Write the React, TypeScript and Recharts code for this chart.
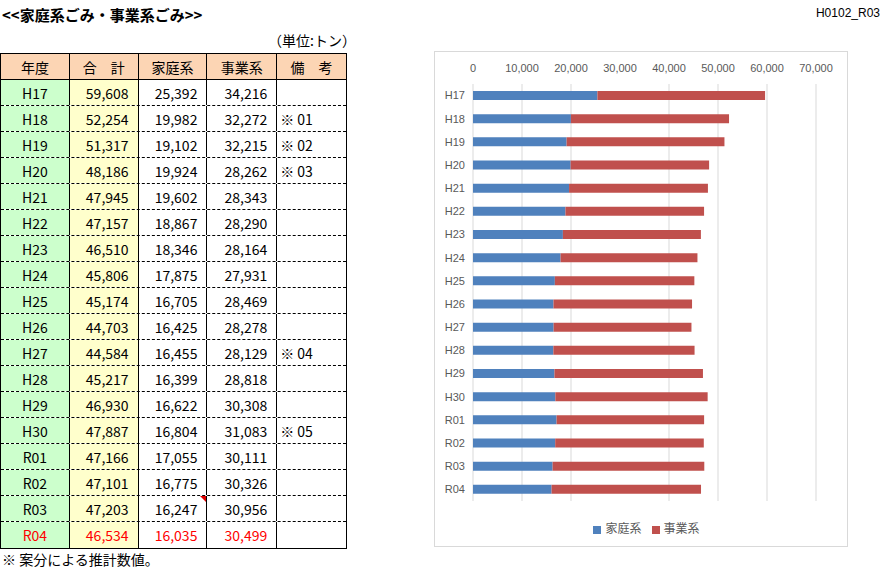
import { BarChart, Bar, XAxis, YAxis, CartesianGrid, Legend } from 'recharts';

const years = ['H17', 'H18', 'H19', 'H20', 'H21', 'H22', 'H23', 'H24', 'H25', 'H26', 'H27', 'H28', 'H29', 'H30', 'R01', 'R02', 'R03', 'R04'];
const totals = [59608, 52254, 51317, 48186, 47945, 47157, 46510, 45806, 45174, 44703, 44584, 45217, 46930, 47887, 47166, 47101, 47203, 46534];
const household = [25392, 19982, 19102, 19924, 19602, 18867, 18346, 17875, 16705, 16425, 16455, 16399, 16622, 16804, 17055, 16775, 16247, 16035];
const business = [34216, 32272, 32215, 28262, 28343, 28290, 28164, 27931, 28469, 28278, 28129, 28818, 30308, 31083, 30111, 30326, 30956, 30499];
const remarks = ['', '※ 01', '※ 02', '※ 03', '', '', '', '', '', '', '※ 04', '', '', '※ 05', '', '', '', ''];
const headers = ['年度', '合\u3000計', '家庭系', '事業系', '備\u3000考'];
const xTicks = [0, 10000, 20000, 30000, 40000, 50000, 60000, 70000];

const colWidths = [69, 69, 69, 70, 69];
const ROW_H = 26;
const jp = "'Noto Sans CJK JP', sans-serif";
const fmt = (v: number) => v.toLocaleString('en-US');

const chartData = years.map((y, i) => ({ year: y, household: household[i], business: business[i] }));
const seriesOrder = ['household', 'business'];

function Cell({ w, bg, align, color, children, last }: any) {
  return (
    <div
      style={{
        width: w,
        height: '100%',
        boxSizing: 'border-box',
        borderRight: last ? 'none' : '1px solid #000',
        background: bg,
        color,
        display: 'flex',
        alignItems: 'center',
        justifyContent: align === 'right' ? 'flex-end' : align === 'left' ? 'flex-start' : 'center',
        paddingRight: align === 'right' ? 9 : 0,
        paddingLeft: align === 'left' ? 3 : 0,
        position: 'relative',
      }}
    >
      {children}
    </div>
  );
}

function DataTable() {
  return (
    <div
      style={{
        position: 'absolute',
        left: 0,
        top: 53,
        width: 347,
        border: '1px solid #000',
        boxSizing: 'border-box',
        fontFamily: jp,
        fontSize: 14,
      }}
    >
      <div style={{ display: 'flex', height: 25, borderBottom: '1px solid #000', background: '#fcd5b4' }}>
        {headers.map((h, i) => (
          <Cell key={h} w={colWidths[i]} align="center" last={i === 4}>{h}</Cell>
        ))}
      </div>
      {years.map((y, i) => {
        const isLast = i === years.length - 1;
        const color = isLast ? '#ff0000' : '#000';
        return (
          <div
            key={y}
            style={{
              display: 'flex',
              height: ROW_H,
              boxSizing: 'border-box',
              borderBottom: isLast ? 'none' : '1px dashed #000',
            }}
          >
            <Cell w={colWidths[0]} bg="#ccffcc" align="center" color={color}>{y}</Cell>
            <Cell w={colWidths[1]} bg="#ffffcc" align="right" color={color}>{fmt(totals[i])}</Cell>
            <Cell w={colWidths[2]} align="right" color={color}>
              {fmt(household[i])}
              {y === 'R03' && (
                <div
                  style={{
                    position: 'absolute',
                    right: 0,
                    top: 0,
                    width: 0,
                    height: 0,
                    borderTop: '6px solid #e00000',
                    borderLeft: '6px solid transparent',
                  }}
                />
              )}
            </Cell>
            <Cell w={colWidths[3]} align="right" color={color}>{fmt(business[i])}</Cell>
            <Cell w={colWidths[4]} align="left" color={color} last>{remarks[i]}</Cell>
          </div>
        );
      })}
    </div>
  );
}

export default function App() {
  return (
    <div style={{ position: 'absolute', left: 0, top: 0, width: 888, height: 574, background: '#fff', overflow: 'hidden' }}>
      <div style={{ position: 'absolute', left: 2, top: 4, fontFamily: jp, fontSize: 15, fontWeight: 'bold' }}>
        {'<<家庭系ごみ・事業系ごみ>>'}
      </div>
      <div style={{ position: 'absolute', right: 8, top: 6, fontFamily: "'Liberation Sans', sans-serif", fontSize: 12 }}>
        H0102_R03
      </div>
      <div style={{ position: 'absolute', left: 268, top: 30, fontFamily: jp, fontSize: 14 }}>（単位:トン）</div>
      <DataTable />
      <div style={{ position: 'absolute', left: 2, top: 549, fontFamily: jp, fontSize: 14 }}>※ 案分による推計数値。</div>

      <div
        style={{
          position: 'absolute',
          left: 434,
          top: 51,
          width: 414,
          height: 496,
          border: '1px solid #d9d9d9',
          boxSizing: 'border-box',
          fontFamily: "'Liberation Sans', 'Noto Sans CJK JP', sans-serif",
        }}
      >
        <BarChart
          width={412}
          height={494}
          data={chartData}
          layout="vertical"
          margin={{ top: 12, right: 31, left: 0, bottom: 8 }}
          barSize={9}
        >
          <CartesianGrid horizontal={false} stroke="#d9d9d9" />
          <XAxis
            type="number"
            orientation="top"
            domain={[0, 70000]}
            ticks={xTicks}
            tickFormatter={fmt}
            axisLine={false}
            tickLine={false}
            tickMargin={6}
            height={20}
            tick={{ fill: '#595959', fontSize: 11 }}
          />
          <YAxis
            type="category"
            dataKey="year"
            width={38}
            axisLine={false}
            tickLine={false}
            tick={{ fill: '#595959', fontSize: 11 }}
          />
          <Legend
            verticalAlign="bottom"
            iconType="square"
            iconSize={8}
            itemSorter={(item: any) => seriesOrder.indexOf(item.dataKey)}
            wrapperStyle={{ paddingTop: 19, paddingLeft: 26, lineHeight: '18px', fontSize: 12, color: '#595959' }}
            formatter={(v: string) => <span style={{ color: '#595959' }}>{v}</span>}
          />
          <Bar dataKey="household" name="家庭系" stackId="a" fill="#4f81bd" isAnimationActive={false} />
          <Bar dataKey="business" name="事業系" stackId="a" fill="#c0504d" isAnimationActive={false} />
        </BarChart>
      </div>
    </div>
  );
}
